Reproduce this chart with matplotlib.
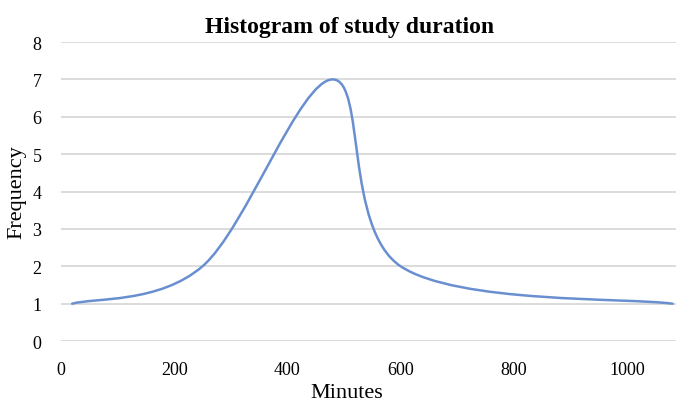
import numpy as np
import matplotlib.pyplot as plt
from matplotlib.path import Path
from matplotlib.patches import PathPatch

# histogram points (bin centre in minutes, frequency)
minutes = [20, 250, 480, 600, 1080]
frequency = [1, 2, 7, 2, 1]

plt.rcParams['font.family'] = ['Liberation Serif', 'DejaVu Serif']

fig, ax = plt.subplots(figsize=(6.76, 4.02), dpi=100)
fig.subplots_adjust(left=0.09, right=1.0, top=0.893, bottom=0.149)

# smoothed line like a spreadsheet "scatter with smooth lines"
x = np.array(minutes, dtype=float)
y = np.array(frequency, dtype=float)
n = len(x)
verts = [(x[0], y[0])]
codes = [Path.MOVETO]
for i in range(n - 1):
    xp, yp = (x[i - 1], y[i - 1]) if i > 0 else (x[i], y[i])
    xn, yn = (x[i + 2], y[i + 2]) if i + 2 < n else (x[i + 1], y[i + 1])
    c1 = (x[i] + (x[i + 1] - xp) / 6, y[i] + (y[i + 1] - yp) / 6)
    c2 = (x[i + 1] - (xn - x[i]) / 6, y[i + 1] - (yn - y[i]) / 6)
    verts += [c1, c2, (x[i + 1], y[i + 1])]
    codes += [Path.CURVE4] * 3
ax.add_patch(PathPatch(Path(verts, codes), fill=False, edgecolor='#6a8fd0',
                       lw=1.8, capstyle='round', zorder=3))

ax.set_xlim(0, 1086)
ax.set_ylim(0, 8)
ax.set_xticks([0, 200, 400, 600, 800, 1000])
ax.set_yticks(range(0, 9))
ax.grid(axis='y', color='#d9d9d9', lw=1.3)
ax.set_axisbelow(True)
for s in ax.spines.values():
    s.set_visible(False)
ax.tick_params(length=0, labelsize=13, colors='black')
ax.tick_params(axis='x', pad=14)
ax.tick_params(axis='y', pad=14)

ax.set_title('Histogram of study duration', fontsize=17, fontweight='bold',
             x=0.47, pad=7)
ax.set_xlabel('Minutes', fontsize=16, labelpad=4, x=0.465)
ax.set_ylabel('Frequency', fontsize=16, labelpad=4)

plt.savefig('out.png', dpi=100)
